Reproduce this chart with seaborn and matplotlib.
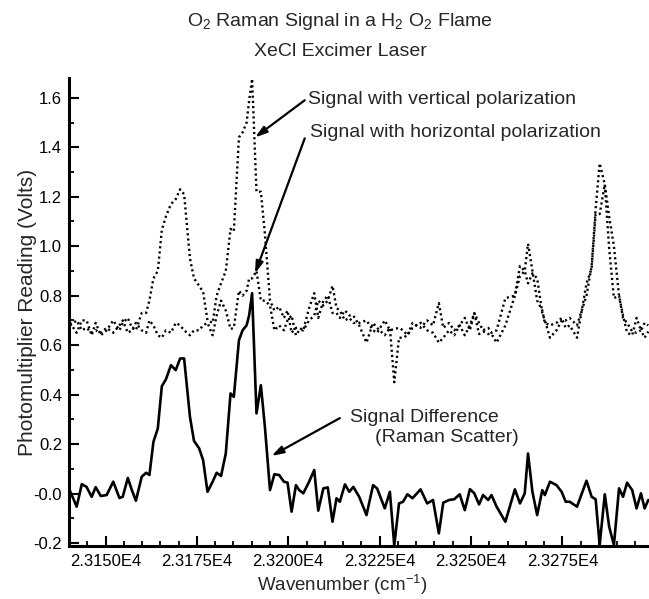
import numpy as np
import pandas as pd
import matplotlib
matplotlib.use("Agg")
import matplotlib.pyplot as plt
from matplotlib.ticker import MultipleLocator, FixedLocator, FixedFormatter
import seaborn as sns

# ---------------- data ----------------
WAVENUMBER = [23140.3, 23142.1, 23143.5, 23144.8, 23146.2, 23147.3, 23148.7, 23150.3, 23152.1, 23153.8,
              23154.7, 23156.1, 23157.2, 23158.3, 23159.9, 23161.1, 23162.0, 23163.1, 23164.3, 23165.4,
              23166.5, 23167.9, 23169.2, 23170.4, 23171.5, 23173.1, 23174.2, 23175.6, 23176.7, 23177.9,
              23179.3, 23180.4, 23181.6, 23182.9, 23184.2, 23185.1, 23186.5, 23187.5, 23188.6, 23189.3,
              23190.1, 23191.3, 23192.5, 23193.6, 23195.0, 23196.2, 23197.5, 23198.8, 23199.8, 23200.9,
              23202.1, 23203.0, 23204.1, 23205.7, 23207.1, 23208.2, 23209.6, 23210.8, 23212.1, 23213.2,
              23214.1, 23215.5, 23216.7, 23217.8, 23219.4, 23221.4, 23223.2, 23224.3, 23226.4, 23227.8,
              23229.0, 23230.3, 23231.4, 23232.6, 23234.0, 23236.2, 23238.0, 23239.6, 23241.2, 23242.4,
              23244.0, 23245.4, 23246.9, 23248.3, 23249.7, 23250.9, 23252.2, 23253.3, 23254.7, 23255.6,
              23257.0, 23259.4, 23262.0, 23263.4, 23264.7, 23265.6, 23266.8, 23268.1, 23269.5, 23270.2,
              23271.6, 23273.4, 23274.8, 23275.9, 23277.0, 23279.0, 23281.6, 23283.0, 23284.1, 23285.2,
              23286.6, 23287.8, 23289.1, 23290.5, 23291.6, 23292.7, 23294.1, 23295.3, 23296.5, 23297.5,
              23298.5]

SIGNAL_VERTICAL = [0.69, 0.65, 0.70, 0.70, 0.64, 0.69, 0.64, 0.66, 0.70, 0.66,
                   0.69, 0.71, 0.67, 0.66, 0.73, 0.73, 0.78, 0.87, 0.90, 1.065,
                   1.12, 1.17, 1.19, 1.23, 1.21, 0.95, 0.87, 0.84, 0.815, 0.70,
                   0.69, 0.80, 0.85, 0.90, 1.07, 1.06, 1.44, 1.46, 1.50, 1.59,
                   1.677, 1.22, 1.22, 1.05, 0.78, 0.74, 0.755, 0.71, 0.74, 0.65,
                   0.67, 0.67, 0.66, 0.75, 0.81, 0.71, 0.78, 0.80, 0.73, 0.73,
                   0.71, 0.74, 0.72, 0.72, 0.68, 0.61, 0.69, 0.67, 0.64, 0.67,
                   0.45, 0.63, 0.63, 0.64, 0.67, 0.69, 0.66, 0.65, 0.61, 0.63,
                   0.66, 0.64, 0.68, 0.64, 0.68, 0.73, 0.645, 0.655, 0.645, 0.645,
                   0.61, 0.68, 0.80, 0.88, 0.90, 1.01, 0.90, 0.78, 0.74, 0.69,
                   0.68, 0.69, 0.71, 0.67, 0.68, 0.63, 0.85, 0.91, 1.13, 1.13,
                   1.25, 0.99, 0.79, 0.80, 0.71, 0.69, 0.655, 0.65, 0.66, 0.63,
                   0.655]

SIGNAL_HORIZONTAL = [0.68, 0.70, 0.66, 0.67, 0.65, 0.66, 0.65, 0.67, 0.65, 0.68,
                     0.70, 0.65, 0.66, 0.69, 0.66, 0.65, 0.70, 0.68, 0.64, 0.63,
                     0.66, 0.65, 0.69, 0.68, 0.66, 0.64, 0.66, 0.66, 0.68, 0.69,
                     0.64, 0.72, 0.78, 0.74, 0.665, 0.67, 0.82, 0.80, 0.82, 0.87,
                     0.87, 0.90, 0.78, 0.78, 0.76, 0.66, 0.68, 0.66, 0.70, 0.72,
                     0.64, 0.66, 0.66, 0.70, 0.72, 0.78, 0.76, 0.78, 0.84, 0.75,
                     0.74, 0.70, 0.71, 0.69, 0.69, 0.70, 0.66, 0.65, 0.70, 0.66,
                     0.665, 0.67, 0.66, 0.64, 0.69, 0.67, 0.70, 0.68, 0.77, 0.67,
                     0.69, 0.66, 0.68, 0.71, 0.66, 0.73, 0.69, 0.66, 0.67, 0.65,
                     0.66, 0.79, 0.80, 0.92, 0.90, 0.85, 0.89, 0.87, 0.73, 0.70,
                     0.63, 0.66, 0.70, 0.70, 0.71, 0.68, 0.80, 0.92, 1.15, 1.335,
                     1.25, 1.12, 1.00, 0.80, 0.72, 0.65, 0.64, 0.71, 0.66, 0.69,
                     0.68]

SIGNAL_DIFFERENCE = [0.01, -0.053, 0.038, 0.027, -0.013, 0.026, -0.01, -0.006, 0.048, -0.018,
                     -0.013, 0.063, 0.014, -0.029, 0.068, 0.084, 0.075, 0.209, 0.263, 0.434,
                     0.461, 0.519, 0.499, 0.546, 0.546, 0.31, 0.213, 0.183, 0.135, 0.007,
                     0.048, 0.084, 0.071, 0.162, 0.405, 0.391, 0.62, 0.66, 0.68, 0.721,
                     0.81, 0.324, 0.438, 0.27, 0.014, 0.078, 0.075, 0.048, 0.044, -0.073,
                     0.034, 0.014, 0.001, 0.048, 0.095, -0.069, 0.021, 0.025, -0.114, -0.019,
                     -0.033, 0.037, 0.007, 0.027, -0.013, -0.087, 0.034, 0.021, -0.06, 0.007,
                     -0.21, -0.04, -0.033, -0.003, -0.019, 0.017, -0.04, -0.026, -0.161, -0.037,
                     -0.026, -0.023, -0.003, -0.067, 0.018, 0.001, -0.044, -0.006, -0.026, -0.006,
                     -0.053, -0.114, 0.017, -0.04, 0.001, 0.162, 0.007, -0.087, 0.014, -0.006,
                     0.048, 0.034, 0.007, -0.033, -0.033, -0.053, 0.052, -0.013, -0.023, -0.208,
                     -0.003, -0.134, -0.208, 0.021, -0.013, 0.044, 0.014, -0.06, 0.001, -0.06,
                     -0.026]

X_TICKS = [23150, 23175, 23200, 23225, 23250, 23275]
X_TICK_LABELS = ["2.3150E4", "2.3175E4", "2.3200E4", "2.3225E4", "2.3250E4", "2.3275E4"]
Y_TICKS = [-0.2, 0.0, 0.2, 0.4, 0.6, 0.8, 1.0, 1.2, 1.4, 1.6]
Y_TICK_LABELS = ["-0.2", "-0.0", "0.2", "0.4", "0.6", "0.8", "1.0", "1.2", "1.4", "1.6"]

TITLE_1 = "O$_2$ Raman Signal in a H$_2$ O$_2$ Flame"
TITLE_2 = "XeCl Excimer Laser"
X_LABEL = "Wavenumber (cm$^{-1}$)"
Y_LABEL = "Photomultiplier Reading (Volts)"

# ---------------- style ----------------
sns.set_style("ticks")
plt.rcParams['font.family'] = ['Liberation Sans', 'DejaVu Sans']
plt.rcParams['mathtext.fontset'] = 'custom'
plt.rcParams['mathtext.rm'] = 'Liberation Sans'
plt.rcParams['mathtext.it'] = 'Liberation Sans'
plt.rcParams['mathtext.bf'] = 'Liberation Sans'

df = pd.DataFrame({
    "wavenumber": WAVENUMBER,
    "vertical": SIGNAL_VERTICAL,
    "horizontal": SIGNAL_HORIZONTAL,
    "difference": SIGNAL_DIFFERENCE,
})

W, H = 649, 599
fig = plt.figure(figsize=(W / 100, H / 100), dpi=100)
ax_l, ax_r, ax_t, ax_b = 69, 649, 78, 546
ax = fig.add_axes([ax_l / W, 1 - ax_b / H, (ax_r - ax_l) / W, (ax_b - ax_t) / H])

dot = (0, (0.9, 1.3))
sns.lineplot(data=df, x="wavenumber", y="vertical", ax=ax, color="black",
             linewidth=1.7, linestyle=dot, sort=False, estimator=None)
sns.lineplot(data=df, x="wavenumber", y="horizontal", ax=ax, color="black",
             linewidth=1.7, linestyle=dot, sort=False, estimator=None)
sns.lineplot(data=df, x="wavenumber", y="difference", ax=ax, color="black",
             linewidth=1.9, sort=False, estimator=None)

ax.set_xlim(23140, 23298.7)
ax.set_ylim(-0.212, 1.68)

ax.xaxis.set_major_locator(FixedLocator(X_TICKS))
ax.xaxis.set_major_formatter(FixedFormatter(X_TICK_LABELS))
ax.xaxis.set_minor_locator(MultipleLocator(5))
ax.yaxis.set_major_locator(FixedLocator(Y_TICKS))
ax.yaxis.set_major_formatter(FixedFormatter(Y_TICK_LABELS))
ax.yaxis.set_minor_locator(MultipleLocator(0.1))

ax.tick_params(which="major", direction="in", length=7, width=1.5, color="black",
               labelsize=12, labelcolor="black")
ax.tick_params(which="minor", direction="in", length=3.5, width=1.3, color="black")
ax.tick_params(axis="x", which="major", pad=6)
ax.tick_params(axis="y", which="major", pad=5)

for s in ["top", "right"]:
    ax.spines[s].set_visible(False)
for s in ["left", "bottom"]:
    ax.spines[s].set_linewidth(2.2)
    ax.spines[s].set_color("black")

ax.set_xlabel(X_LABEL, fontsize=13.5)
ax.set_ylabel(Y_LABEL, fontsize=15)
ax.xaxis.set_label_coords((342 - ax_l) / (ax_r - ax_l), -0.058)
ax.yaxis.set_label_coords(-0.055, 0.5)

fig.text(340 / W, 1 - 21 / H, TITLE_1, ha="center", va="center", fontsize=14)
fig.text(340 / W, 1 - 51 / H, TITLE_2, ha="center", va="center", fontsize=14)

arrow = dict(arrowstyle="-|>,head_length=0.7,head_width=0.22", color="black",
             lw=1.6, shrinkA=0, shrinkB=0)
ax.annotate("", xy=(23190.9, 1.44), xytext=(23204.5, 1.59), arrowprops=arrow)
ax.annotate("", xy=(23190.9, 0.89), xytext=(23204.5, 1.436), arrowprops=arrow)
ax.annotate("", xy=(23195.4, 0.152), xytext=(23214.1, 0.305), arrowprops=arrow)

ax.text(23205.4, 1.594, "Signal with vertical polarization", ha="left", va="center", fontsize=14)
ax.text(23205.9, 1.461, "Signal with horizontal polarization", ha="left", va="center", fontsize=14)
ax.text(23216.9, 0.309, "Signal Difference", ha="left", va="center", fontsize=14)
ax.text(23223.7, 0.228, "(Raman Scatter)", ha="left", va="center", fontsize=14)

fig.savefig("out.png", dpi=100)
